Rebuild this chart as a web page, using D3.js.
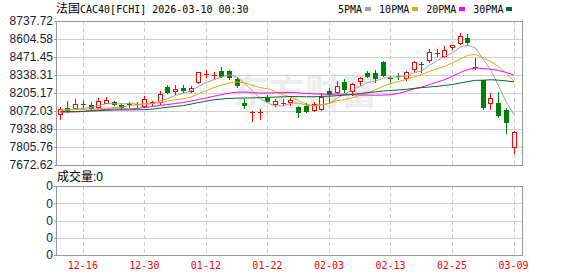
<!DOCTYPE html>
<html>
<head>
<meta charset="utf-8">
<script src="https://cdn.jsdelivr.net/npm/d3@7/dist/d3.min.js"></script>
<style>
body { margin: 0; background: #fff; }
svg { display: block; }
</style>
</head>
<body>
<div id="chart"></div>
<script>
// daily candles, 2025-12-11 .. 2026-03-09
const dates = ["12-11","12-12","12-15","12-16","12-17","12-18","12-19","12-22","12-23","12-24",
  "12-29","12-30","12-31","01-02","01-05","01-06","01-07","01-08","01-09","01-12",
  "01-13","01-14","01-15","01-16","01-19","01-20","01-21","01-22","01-23","01-26",
  "01-27","01-28","01-29","01-30","02-02","02-03","02-04","02-05","02-06","02-09",
  "02-10","02-11","02-12","02-13","02-16","02-17","02-18","02-19","02-20","02-23",
  "02-24","02-25","02-26","02-27","03-02","03-03","03-04","03-05","03-06","03-09"];
const opens = [8050,8096,8092,8122,8116,8104,8133,8139,8116,8122,
  8126,8111,8133,8136,8247,8222,8242,8222,8284,8344,
  8339,8368,8368,8309,8129,8061,8061,8170,8124,8132,
  8136,8099,8109,8079,8085,8222,8215,8289,8220,8294,
  8355,8351,8437,8314,8332,8314,8380,8417,8449,8497,
  8479,8548,8573,8610,8400,8301,8129,8129,8079,7808];
const highs = [8104,8148,8158,8151,8141,8166,8173,8148,8129,8136,
  8136,8185,8146,8220,8264,8264,8264,8259,8360,8375,
  8360,8400,8375,8321,8161,8074,8085,8190,8159,8159,
  8170,8111,8129,8141,8203,8240,8294,8307,8281,8321,
  8370,8375,8444,8331,8355,8368,8444,8432,8528,8528,
  8553,8560,8651,8645,8462,8303,8207,8210,8092,7926];
const lows = [8011,8067,8085,8085,8079,8096,8129,8116,8085,8104,
  8104,8104,8114,8124,8203,8196,8215,8210,8282,8321,
  8309,8326,8306,8252,8096,7998,8013,8141,8111,8116,
  8116,8025,8067,8074,8079,8133,8203,8215,8190,8264,
  8321,8284,8333,8277,8307,8301,8370,8363,8432,8481,
  8469,8530,8568,8560,8380,8085,8087,8030,7912,7764];
const closes = [8085,8079,8124,8116,8092,8148,8151,8126,8102,8116,
  8114,8161,8139,8196,8213,8233,8227,8244,8358,8347,
  8341,8331,8321,8264,8119,8063,8063,8148,8146,8134,
  8156,8067,8074,8124,8178,8198,8259,8233,8270,8318,
  8331,8314,8338,8309,8330,8363,8432,8412,8511,8500,
  8523,8560,8627,8585,8395,8099,8166,8042,7993,7915];

// moving averages as drawn on the chart
const ma5 = [8079,8083,8087,8091,8099.2,8111.8,8126.2,8126.6,8123.8,8128.6,
  8121.8,8123.8,8126.4,8145.2,8164.6,8188.4,8201.6,8222.6,8255,8281.8,
  8303.4,8324.2,8339.6,8320.8,8275.2,8219.6,8166,8131.4,8107.8,8110.8,
  8129.4,8130.2,8115.4,8111,8119.8,8128.2,8166.6,8198.4,8227.6,8255.6,
  8282.2,8293.2,8314.2,8322,8324.4,8330.8,8354.4,8369.2,8409.6,8443.6,
  8475.6,8501.2,8544.2,8559,8538,8453.2,8374.4,8257.4,8139,8043];
const ma10 = [8079,8079,8083,8085,8087,8089,8092,8096,8100,8113.9,
  8116.8,8125,8126.5,8134.5,8146.6,8155.1,8162.7,8174.5,8200.1,8223.2,
  8245.9,8262.9,8281.1,8287.9,8278.5,8261.5,8245.1,8235.5,8214.3,8193,
  8174.5,8148.1,8123.4,8109.4,8115.3,8128.8,8148.4,8156.9,8169.3,8187.7,
  8205.2,8229.9,8256.3,8274.8,8290,8306.5,8323.8,8341.7,8365.8,8384,
  8403.2,8427.8,8456.7,8484.3,8490.8,8464.4,8437.8,8400.8,8349,8290.5];
const ma20 = [8065,8065,8065,8068,8076,8079,8083,8087,8087,8087,
  8091,8098,8105,8113,8120,8128,8135,8146,8157,8168.6,
  8181.4,8193.9,8203.8,8211.2,8212.6,8208.3,8203.9,8205,8207.2,8208.1,
  8210.2,8205.5,8202.3,8198.7,8196.9,8195.2,8196.8,8196.2,8191.8,8190.4,
  8189.9,8189,8189.9,8192.1,8202.7,8217.7,8236.1,8249.3,8267.6,8285.9,
  8304.2,8328.9,8356.5,8379.6,8390.4,8385.5,8380.8,8371.3,8357.4,8337.3];
const ma30 = [8066,8067,8068,8070,8072,8074,8077,8079,8080,8080,
  8081,8082,8086,8093,8100,8106,8112,8123,8135,8146,
  8155,8161,8165,8167,8168,8169,8171,8173,8175,8176.7,
  8179.1,8178.7,8177,8177.3,8180.1,8181.8,8185.4,8189,8194.6,8201.3,
  8208.5,8213.6,8220.3,8224,8227.9,8232.3,8239.1,8244.7,8249.8,8254.9,
  8261,8268.6,8278.9,8289.5,8298.7,8299.9,8303.3,8299.8,8294.7,8287.4];

const priceTicks = [8737.72,8604.58,8471.45,8338.31,8205.17,8072.03,7938.89,7805.76,7672.62];
const volTickLabels = ["0","0","0","0","0"];
const dateTicks = ["12-16","12-30","01-12","01-22","02-03","02-13","02-25","03-09"];
const maNames = ["5PMA","10PMA","20PMA","30PMA"];
const title = ["法国", "CAC40[FCHI] 2026-03-10 00:30"];

const maSeries = [ma5, ma10, ma20, ma30];
const maColors = ["#a0a0a0", "#f0a30a", "#ff00ff", "#006b2e"];
const upColor = "#ff0000", downColor = "#008000";

const W = 578, H = 276;
const main = {left: 56, right: 522, top: 21, bottom: 165};
const vol = {top: 186, bottom: 255};
const latin = "'Liberation Sans', Arial, sans-serif";
const mono = "'DejaVu Sans Mono', monospace";
const cjk = "'Noto Sans CJK SC', sans-serif";

const svg = d3.select('#chart').append('svg')
  .attr('width', W)
  .attr('height', H);

const x = d3.scaleLinear()
  .domain([0, dates.length - 1])
  .range([59.8, 513.5]);
const y = d3.scaleLinear()
  .domain([priceTicks[priceTicks.length - 1], priceTicks[0]])
  .range([main.bottom, main.top]);
const yVol = d3.scaleLinear()
  .domain([0, volTickLabels.length - 1])
  .range([vol.bottom, vol.top]);

const px = v => Math.round(v) + 0.5;

// title
const t = svg.append('text').attr('x', main.left).attr('y', 13).attr('fill', '#000');
t.append('tspan').style('font-family', cjk).style('font-size', '12px').text(title[0]);
t.append('tspan').style('font-family', mono).style('font-size', '10px').text(title[1]);

// legend
let lx = 338;
maNames.forEach((name, i) => {
  const txt = svg.append('text')
    .attr('x', lx).attr('y', 12.5)
    .style('font-family', mono).style('font-size', '10px')
    .attr('fill', '#000')
    .text(name);
  const w = txt.node().getComputedTextLength();
  svg.append('rect')
    .attr('x', Math.round(lx + w + 3)).attr('y', 7)
    .attr('width', 6).attr('height', 4)
    .attr('fill', maColors[i]);
  lx += w + 3 + 6 + 8;
});

// watermark
svg.append('text')
  .attr('x', 233).attr('y', 105)
  .style('font-family', cjk).style('font-size', '36px').style('font-weight', 'bold')
  .attr('fill', '#ededed')
  .text('东方财富');

// gridlines
const grid = svg.append('g').attr('shape-rendering', 'crispEdges');
grid.selectAll('.hgrid')
  .data(priceTicks.slice(1, -1))
  .join('line')
  .attr('x1', main.left).attr('x2', main.right)
  .attr('y1', d => px(y(d))).attr('y2', d => px(y(d)))
  .attr('stroke', '#cfcfcf');
grid.selectAll('.vhgrid')
  .data(d3.range(1, volTickLabels.length - 1))
  .join('line')
  .attr('x1', main.left).attr('x2', main.right)
  .attr('y1', d => px(yVol(d))).attr('y2', d => px(yVol(d)))
  .attr('stroke', '#cfcfcf');
dateTicks.forEach(d => {
  const xx = px(x(dates.indexOf(d)));
  [[main.top, main.bottom], [vol.top, vol.bottom]].forEach(([a, b]) => {
    grid.append('line')
      .attr('x1', xx).attr('x2', xx).attr('y1', a).attr('y2', b)
      .attr('stroke', '#cccccc')
      .attr('stroke-dasharray', '4,3');
  });
});

// candles
const candles = svg.append('g').attr('shape-rendering', 'crispEdges');
dates.forEach((d, i) => {
  const cx = Math.round(x(i));
  const up = closes[i] >= opens[i];
  const color = up ? upColor : downColor;
  const yo = Math.round(y(opens[i])), yc = Math.round(y(closes[i]));
  const top = Math.min(yo, yc), bot = Math.max(yo, yc);
  candles.append('line')
    .attr('x1', cx + 0.5).attr('x2', cx + 0.5)
    .attr('y1', Math.round(y(highs[i]))).attr('y2', Math.round(y(lows[i])) + 1)
    .attr('stroke', color);
  if (bot - top < 2) {
    candles.append('rect')
      .attr('x', cx - 2).attr('y', top)
      .attr('width', 5).attr('height', Math.max(1, bot - top))
      .attr('fill', color);
  } else if (up) {
    candles.append('rect')
      .attr('x', cx - 1.5).attr('y', top + 0.5)
      .attr('width', 4).attr('height', bot - top)
      .attr('fill', '#fff').attr('stroke', color);
  } else {
    candles.append('rect')
      .attr('x', cx - 2).attr('y', top)
      .attr('width', 5).attr('height', bot - top + 1)
      .attr('fill', color);
  }
});

// moving average lines
const line = d3.line()
  .x((d, i) => x(i) + 0.5)
  .y(d => y(d));
maSeries.forEach((s, k) => {
  svg.append('path')
    .datum(s)
    .attr('d', line)
    .attr('fill', 'none')
    .attr('stroke', maColors[k])
    .attr('stroke-width', 1);
});

// frames
const frames = svg.append('g').attr('shape-rendering', 'crispEdges');
frames.append('rect')
  .attr('x', main.left + 0.5).attr('y', main.top + 0.5)
  .attr('width', main.right - main.left).attr('height', main.bottom - main.top)
  .attr('fill', 'none').attr('stroke', '#999');
frames.append('rect')
  .attr('x', main.left + 0.5).attr('y', vol.top + 0.5)
  .attr('width', main.right - main.left).attr('height', vol.bottom - vol.top)
  .attr('fill', 'none').attr('stroke', '#999');

// axes
const yAxis = svg.append('g')
  .attr('transform', `translate(${main.left},0)`)
  .call(d3.axisLeft(y).tickValues(priceTicks).tickFormat(d3.format('.2f')).tickSize(2).tickPadding(1));
const vAxis = svg.append('g')
  .attr('transform', `translate(${main.left},0)`)
  .call(d3.axisLeft(yVol).tickValues(d3.range(volTickLabels.length))
    .tickFormat((d, i) => volTickLabels[i]).tickSize(2).tickPadding(1));
[yAxis, vAxis].forEach(g => {
  g.select('.domain').remove();
  g.selectAll('line').attr('stroke', '#999');
  g.selectAll('text')
    .style('font-family', latin).style('font-size', '12px')
    .attr('fill', '#1b1b33');
});

// volume title
const vt = svg.append('text').attr('x', 57).attr('y', 181).attr('fill', '#000');
vt.append('tspan').style('font-family', cjk).style('font-size', '12px').text('成交量');
vt.append('tspan').style('font-family', latin).style('font-size', '12px').text(':0');

// date labels
svg.selectAll('.xlab')
  .data(dateTicks)
  .join('text')
  .attr('x', d => x(dates.indexOf(d)))
  .attr('y', 269)
  .attr('text-anchor', 'middle')
  .style('font-family', mono).style('font-size', '10px')
  .attr('fill', '#ff0000')
  .text(d => d);
</script>
</body>
</html>
